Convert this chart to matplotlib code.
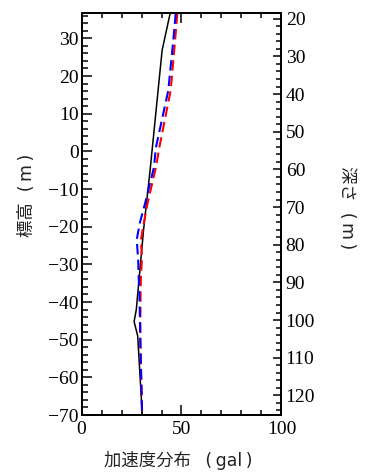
import matplotlib
matplotlib.use("Agg")
import matplotlib.pyplot as plt
from matplotlib.ticker import MultipleLocator

# Data
elev_black = [36.6, 26.8, -5.0, -21.0, -42.0, -45.2, -49.0, -70.0]
acc_black = [44.3, 40.3, 34.3, 31.0, 27.4, 26.3, 28.1, 30.4]

elev_dash = [36.6, 29.5, 16.2, 1.0, -4.3, -13.6, -18.9, -23.5, -28.3, -33.6, -38.7, -50.0, -70.0]
acc_blue = [47.1, 45.9, 43.4, 37.2, 36.2, 31.9, 29.2, 27.6, 28.3, 28.6, 29.0, 29.4, 30.3]
acc_red = [47.9, 46.8, 44.6, 38.9, 37.2, 33.1, 31.2, 29.7, 30.2, 29.7, 29.5, 29.4, 30.3]

ground_elev = 55.2
y_top, y_bottom = 36.6, -70.0
x_ticks = [0, 50, 100]
left_ticks = [30, 20, 10, 0, -10, -20, -30, -40, -50, -60, -70]
right_ticks = [20, 30, 40, 50, 60, 70, 80, 90, 100, 110, 120]

serif = ["Liberation Serif", "DejaVu Serif"]
lab_font = ["DejaVu Sans", "Noto Sans CJK JP"]

fig = plt.figure(figsize=(3.66, 4.75), dpi=100)
ax = fig.add_axes([0.2227, 0.1263, 0.5464, 0.8453])

ax.plot(acc_black, elev_black, color="black", lw=1.1, zorder=3)
ax.plot(acc_red, elev_dash, color="#ff0000", lw=1.5, dashes=(5, 2.5), zorder=4)
ax.plot(acc_blue, elev_dash, color="#0000ff", lw=1.5, dashes=(5, 2.5), zorder=5)

ax.set_xlim(0, 100)
ax.set_ylim(y_bottom, y_top)
ax.set_xticks(x_ticks)
ax.set_yticks(left_ticks)
ax.xaxis.set_minor_locator(MultipleLocator(10))
ax.yaxis.set_minor_locator(MultipleLocator(2))
ax.tick_params(axis="both", which="both", direction="in", width=1.1)
ax.tick_params(axis="x", which="major", length=7, top=True, pad=4)
ax.tick_params(axis="x", which="minor", length=3.3, top=True)
ax.tick_params(axis="y", which="major", length=7.5, right=False, pad=2)
ax.tick_params(axis="y", which="minor", length=4.5, right=False)
for lab in ax.get_xticklabels() + ax.get_yticklabels():
    lab.set_family(serif)
    lab.set_fontsize(14)
for s in ax.spines.values():
    s.set_linewidth(1.3)

ax2 = ax.twinx()
ax2.set_ylim(ground_elev - y_bottom, ground_elev - y_top)
ax2.set_yticks(right_ticks)
ax2.yaxis.set_minor_locator(MultipleLocator(2))
ax2.tick_params(axis="y", which="major", direction="in", length=6, width=1.1, pad=3)
ax2.tick_params(axis="y", which="minor", direction="in", length=3.3, width=1.1)
for lab in ax2.get_yticklabels():
    lab.set_family(serif)
    lab.set_fontsize(14)
for s in ax2.spines.values():
    s.set_linewidth(1.3)

fig.text(0.486, 0.031, "加速度分布  \u2009(\u2009gal\u2009)", family=lab_font, fontsize=12.5,
         color="#222222", ha="center", va="center")
fig.text(0.073, 0.589, "標高  (\u2009m\u2009)", family=lab_font, fontsize=12.5,
         color="#222222", ha="center", va="center", rotation=90)
fig.text(0.947, 0.563, "深さ  (\u2009m\u2009)", family=lab_font, fontsize=12.5,
         color="#222222", ha="center", va="center", rotation=-90)

fig.savefig("out.png", dpi=100)
